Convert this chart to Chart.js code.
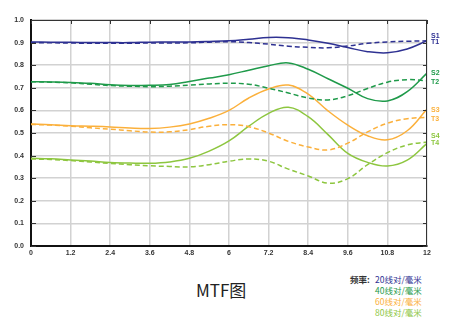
<!DOCTYPE html>
<html>
<head>
<meta charset="utf-8">
<script src="https://cdn.jsdelivr.net/npm/chart.js@4"></script>
<style>
  body { margin:0; background:#fff; }
  #wrap { position:relative; width:450px; height:329px; }
  #box { position:absolute; left:0; top:0; width:450px; height:260px; }
  #title { position:absolute; left:196px; top:280px; font:17px "Noto Sans CJK SC", sans-serif; color:#222; line-height:20px; }
  #legend { position:absolute; left:350px; top:274px; font:8.5px "Noto Sans CJK SC", sans-serif; line-height:11px; }
  #legend div { white-space:nowrap; }
  #legend b { color:#333; display:inline-block; width:25px; }
</style>
</head>
<body>
<div id="wrap">
  <div id="box"><canvas id="mtf"></canvas></div>
  <div id="title">MTF图</div>
  <div id="legend"></div>
</div>
<script>
// spatial position (mm) and MTF values
var xValues = [0,0.6,1.2,1.8,2.4,3.0,3.6,4.2,4.8,5.4,6.0,6.6,7.2,7.8,8.4,9.0,9.6,10.2,10.8,11.4,12];
var xTicks = [0,1.2,2.4,3.6,4.8,6,7.2,8.4,9.6,10.8,12];

var s1 = [0.903,0.902,0.901,0.900,0.900,0.900,0.902,0.903,0.903,0.905,0.908,0.915,0.923,0.922,0.912,0.897,0.878,0.860,0.855,0.872,0.908];
var t1 = [0.900,0.899,0.898,0.897,0.897,0.897,0.898,0.898,0.899,0.902,0.904,0.900,0.893,0.884,0.879,0.877,0.885,0.897,0.903,0.906,0.908];
var s2 = [0.727,0.726,0.724,0.720,0.713,0.710,0.711,0.715,0.728,0.743,0.758,0.778,0.798,0.810,0.782,0.740,0.698,0.652,0.642,0.683,0.765];
var t2 = [0.727,0.725,0.722,0.716,0.710,0.707,0.705,0.707,0.712,0.717,0.720,0.716,0.698,0.677,0.655,0.646,0.665,0.697,0.725,0.736,0.731];
var s3 = [0.540,0.537,0.532,0.530,0.527,0.522,0.520,0.526,0.540,0.565,0.600,0.655,0.695,0.712,0.672,0.598,0.535,0.488,0.470,0.510,0.606];
var t3 = [0.538,0.535,0.530,0.523,0.517,0.510,0.504,0.505,0.515,0.530,0.537,0.528,0.500,0.463,0.438,0.425,0.455,0.505,0.543,0.563,0.569];
var s4 = [0.388,0.386,0.381,0.376,0.370,0.367,0.366,0.372,0.388,0.420,0.465,0.530,0.587,0.614,0.572,0.493,0.410,0.370,0.354,0.380,0.454];
var t4 = [0.385,0.383,0.378,0.372,0.365,0.360,0.355,0.352,0.350,0.360,0.375,0.385,0.375,0.340,0.310,0.278,0.298,0.360,0.413,0.447,0.460];

var freqLabels = ["20线对/毫米","40线对/毫米","60线对/毫米","80线对/毫米"];
var colors = ["#2e3192","#1f9a4a","#fbb03b","#8dc63f"];

function pts(arr){
  return arr.map(function(v,i){ return {x:xValues[i], y:v}; });
}

var series = [
  {name:"S1", data:s1, c:0, dash:false, off:-5},
  {name:"T1", data:t1, c:0, dash:true,  off:1},
  {name:"S2", data:s2, c:1, dash:false, off:0},
  {name:"T2", data:t2, c:1, dash:true,  off:1},
  {name:"S3", data:s3, c:2, dash:false, off:1},
  {name:"T3", data:t3, c:2, dash:true,  off:2},
  {name:"S4", data:s4, c:3, dash:false, off:-7},
  {name:"T4", data:t4, c:3, dash:true,  off:1}
];

var datasets = series.map(function(s){
  return {
    label: s.name,
    data: pts(s.data),
    borderColor: colors[s.c],
    borderWidth: 1.5,
    borderDash: s.dash ? [5,3] : [],
    pointRadius: 0,
    fill: false,
    tension: 0.4
  };
});

// frame, inner tick marks and S/T labels at the right end
var framePlugin = {
  id: 'frame',
  afterDraw: function(chart){
    var ctx = chart.ctx, a = chart.chartArea;
    var xs = chart.scales.x, ys = chart.scales.y;
    ctx.save();
    ctx.strokeStyle = '#333';
    ctx.lineWidth = 1;
    ctx.beginPath();
    ctx.moveTo(a.left, a.top + 0.5); ctx.lineTo(a.right, a.top + 0.5);
    ctx.moveTo(a.right - 0.5, a.top); ctx.lineTo(a.right - 0.5, a.bottom);
    ys.ticks.forEach(function(t){
      var y = Math.round(ys.getPixelForValue(t.value)) + 0.5;
      ctx.moveTo(a.left, y); ctx.lineTo(a.left + 5, y);
      ctx.moveTo(a.right, y); ctx.lineTo(a.right - 4, y);
    });
    xs.ticks.forEach(function(t){
      var x = Math.round(xs.getPixelForValue(t.value)) + 0.5;
      ctx.moveTo(x, a.top); ctx.lineTo(x, a.top + 4);
    });
    ctx.stroke();

    ctx.font = 'bold 7px "Liberation Sans", sans-serif';
    ctx.textBaseline = 'middle';
    ctx.textAlign = 'left';
    series.forEach(function(s){
      var last = s.data[s.data.length - 1];
      ctx.fillStyle = colors[s.c];
      ctx.fillText(s.name, a.right + 4, ys.getPixelForValue(last) + s.off);
    });
    ctx.restore();
  }
};

new Chart("mtf", {
  type: "line",
  data: { datasets: datasets },
  plugins: [framePlugin],
  options: {
    responsive: true,
    maintainAspectRatio: false,
    animation: false,
    layout: { padding: { top: 20, right: 23, left: 0, bottom: 0 } },
    plugins: { legend: { display: false }, tooltip: { enabled: false } },
    scales: {
      x: {
        type: 'linear',
        min: 0, max: 12,
        afterBuildTicks: function(scale){
          scale.ticks = xTicks.map(function(v){ return {value:v}; });
        },
        afterFit: function(scale){ scale.height = 14; },
        ticks: {
          autoSkip: false, maxRotation: 0, padding: 3,
          color: '#333',
          font: { family: 'Liberation Sans', size: 7, weight: 'bold' },
          callback: function(v){ return String(Math.round(v * 10) / 10); }
        },
        grid: { color: '#d2d2d2', lineWidth: 1.5, drawTicks: false },
        border: { color: '#111', width: 2 }
      },
      y: {
        min: 0, max: 1,
        afterFit: function(scale){ scale.width = 31; },
        ticks: {
          stepSize: 0.1, padding: 7,
          color: '#333',
          font: { family: 'Liberation Sans', size: 7, weight: 'bold' },
          callback: function(v){ return v.toFixed(1); }
        },
        grid: { color: '#d2d2d2', lineWidth: 1.5, drawTicks: false },
        border: { color: '#111', width: 2 }
      }
    }
  }
});

var lg = document.getElementById('legend');
freqLabels.forEach(function(t, i){
  var d = document.createElement('div');
  d.innerHTML = (i === 0 ? '<b>频率:</b>' : '<b></b>') + '<span style="color:' + colors[i] + '">' + t + '</span>';
  lg.appendChild(d);
});
</script>
</body>
</html>
